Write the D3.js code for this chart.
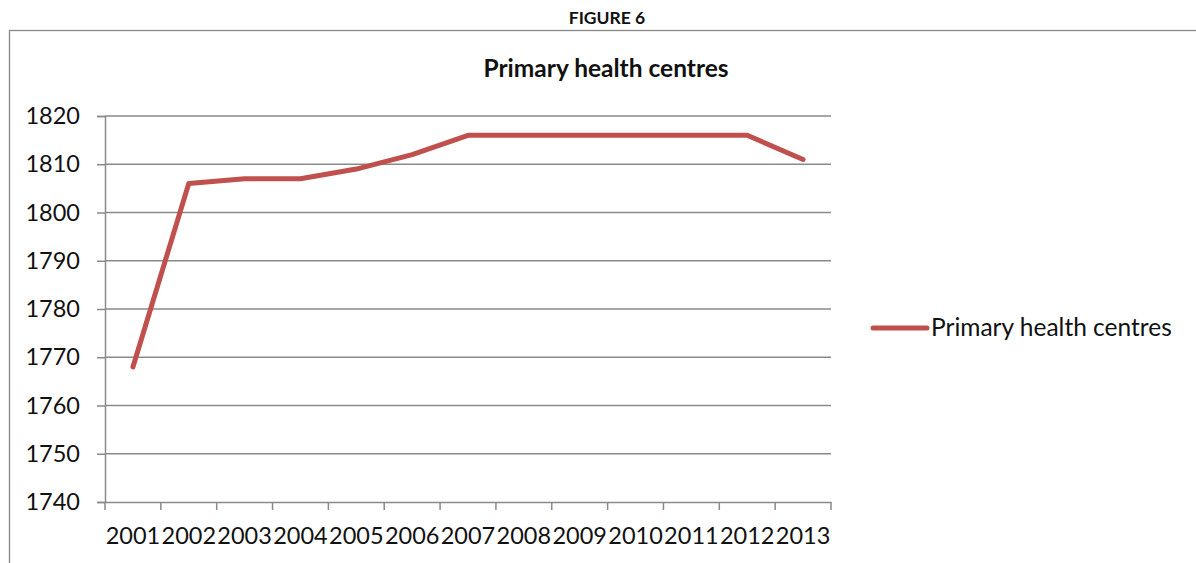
<!DOCTYPE html>
<html><head><meta charset="utf-8">
<script src="https://cdn.jsdelivr.net/npm/d3@7"></script>
<style>
html,body{margin:0;padding:0;background:#fff;}
svg{display:block;font-family:Lato,"Open Sans",sans-serif;}
</style></head>
<body><svg id="c" width="1196" height="563"></svg>
<script>
const years = ["2001","2002","2003","2004","2005","2006","2007","2008","2009","2010","2011","2012","2013"];
const values = [1768,1806,1807,1807,1809,1812,1816,1816,1816,1816,1816,1816,1811];
const yTicks = [1740,1750,1760,1770,1780,1790,1800,1810,1820];
const seriesName = "Primary health centres";
const figureLabel = "FIGURE 6";

const svg = d3.select("#c");
const pLeft = 105, pRight = 831, pTop = 116, pBottom = 502;

// outer frame
svg.append("rect").attr("x",9.5).attr("y",30.5).attr("width",1300).attr("height",700)
  .attr("fill","none").attr("stroke","#888").attr("stroke-width",1.3);

svg.append("text").attr("x",607).attr("y",24).attr("text-anchor","middle")
  .attr("font-weight","bold").attr("font-size",17.5).attr("fill","#111").text(figureLabel);
svg.append("text").attr("x",606).attr("y",77).attr("text-anchor","middle")
  .attr("font-weight","bold").attr("font-size",24.5).attr("fill","#111").text(seriesName);

const x = d3.scaleBand().domain(years).range([pLeft,pRight]).padding(0);
const y = d3.scaleLinear().domain([1740,1820]).range([pBottom,pTop]);

// gridlines
svg.append("g").selectAll("line").data(yTicks.slice(1)).join("line")
  .attr("x1",pLeft).attr("x2",pRight).attr("y1",d=>y(d)).attr("y2",d=>y(d))
  .attr("stroke","#8a8a8a").attr("stroke-width",1.5);

// y axis
const ya = svg.append("g").attr("transform",`translate(${pLeft},0)`)
  .call(d3.axisLeft(y).tickValues(yTicks).tickSize(8).tickPadding(17).tickFormat(d3.format("d")));
ya.select(".domain").attr("stroke","#8a8a8a").attr("stroke-width",1.5);
ya.selectAll(".tick line").attr("stroke","#8a8a8a").attr("stroke-width",1.5);
ya.selectAll("text").attr("font-size",23.5).attr("fill","#111").attr("font-family","Lato");

// x axis
const xa = svg.append("g").attr("transform",`translate(0,${pBottom})`)
  .call(d3.axisBottom(x).tickSize(0).tickPadding(25));
xa.select(".domain").attr("stroke","#8a8a8a").attr("stroke-width",1.5);
xa.selectAll("text").attr("font-size",23.5).attr("fill","#111").attr("font-family","Lato");
// boundary ticks
const bounds = years.map(d=>x(d)).concat([pRight]);
svg.append("g").selectAll("line").data(bounds).join("line")
  .attr("x1",d=>d).attr("x2",d=>d).attr("y1",pBottom).attr("y2",pBottom+8)
  .attr("stroke","#8a8a8a").attr("stroke-width",1.5);

// line
const line = d3.line().x((d,i)=>x(years[i])+x.bandwidth()/2).y(d=>y(d));
svg.append("path").datum(values).attr("d",line).attr("fill","none")
  .attr("stroke","#C0504D").attr("stroke-width",5).attr("stroke-linejoin","round").attr("stroke-linecap","round");

// legend
svg.append("line").attr("x1",873).attr("x2",927).attr("y1",328).attr("y2",328)
  .attr("stroke","#C0504D").attr("stroke-width",5).attr("stroke-linecap","round");
svg.append("text").attr("x",931).attr("y",336).attr("font-size",24.5).attr("fill","#111").text(seriesName);
</script></body></html>
